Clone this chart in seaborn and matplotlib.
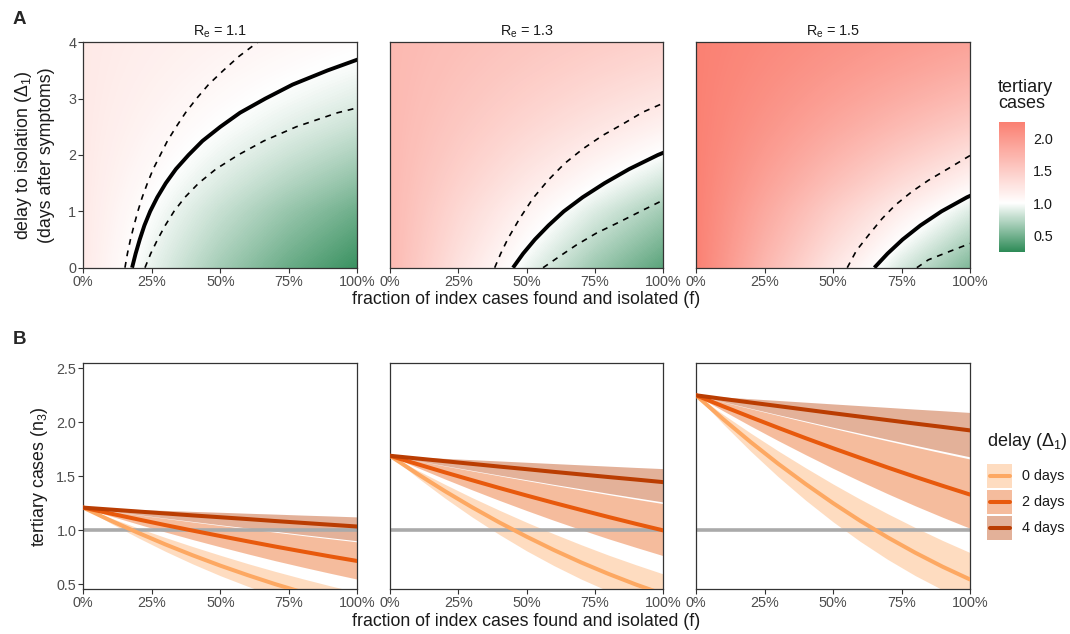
import matplotlib
matplotlib.use("Agg")
import numpy as np
import pandas as pd
import matplotlib.pyplot as plt
import seaborn as sns
from matplotlib.colors import LinearSegmentedColormap, Normalize
from matplotlib.patches import Rectangle
from matplotlib.lines import Line2D

# ---- data ----
re_values = [1.1, 1.3, 1.5]
f_grid = [0, 0.25, 0.5, 0.75, 1.0]
delay_grid = [0, 0.5, 1, 1.5, 2, 2.5, 3, 3.5, 4]

# panel A: tertiary cases, rows = delay_grid, cols = f_grid
n3_grid = {
    1.1: [[1.21, 0.920, 0.670, 0.459, 0.288],
          [1.21, 0.958, 0.736, 0.543, 0.379],
          [1.21, 0.994, 0.799, 0.625, 0.473],
          [1.21, 1.035, 0.874, 0.727, 0.593],
          [1.21, 1.071, 0.940, 0.818, 0.704],
          [1.21, 1.102, 0.999, 0.901, 0.808],
          [1.21, 1.127, 1.047, 0.969, 0.895],
          [1.21, 1.147, 1.086, 1.027, 0.969],
          [1.21, 1.163, 1.117, 1.073, 1.029]],
    1.3: [[1.69, 1.285, 0.935, 0.641, 0.402],
          [1.69, 1.339, 1.028, 0.759, 0.530],
          [1.69, 1.388, 1.116, 0.873, 0.660],
          [1.69, 1.446, 1.221, 1.015, 0.828],
          [1.69, 1.496, 1.313, 1.143, 0.984],
          [1.69, 1.539, 1.395, 1.258, 1.128],
          [1.69, 1.574, 1.462, 1.354, 1.250],
          [1.69, 1.602, 1.517, 1.434, 1.354],
          [1.69, 1.625, 1.561, 1.498, 1.437]],
    1.5: [[2.25, 1.711, 1.245, 0.854, 0.536],
          [2.25, 1.782, 1.369, 1.010, 0.706],
          [2.25, 1.848, 1.485, 1.162, 0.879],
          [2.25, 1.925, 1.626, 1.351, 1.103],
          [2.25, 1.991, 1.748, 1.521, 1.310],
          [2.25, 2.049, 1.857, 1.675, 1.502],
          [2.25, 2.095, 1.946, 1.802, 1.664],
          [2.25, 2.133, 2.020, 1.910, 1.802],
          [2.25, 2.163, 2.078, 1.994, 1.913]],
}

# n3 = 1 contour (solid) and its bounds (dashed): (f, delay)
contour_mid = {
    1.1: ([0.178, 0.191, 0.206, 0.223, 0.244, 0.270, 0.301, 0.338, 0.384, 0.435,
           0.500, 0.572, 0.664, 0.764, 0.891, 1.033],
          [0, 0.25, 0.5, 0.75, 1, 1.25, 1.5, 1.75, 2, 2.25, 2.5, 2.75, 3, 3.25, 3.5, 3.75]),
    1.3: ([0.450, 0.487, 0.530, 0.580, 0.636, 0.705, 0.785, 0.875, 0.980, 1.08],
          [0, 0.25, 0.5, 0.75, 1, 1.25, 1.5, 1.75, 2, 2.2]),
    1.5: ([0.651, 0.699, 0.754, 0.819, 0.896, 0.989, 1.104],
          [0, 0.25, 0.5, 0.75, 1.0, 1.25, 1.5]),
}
contour_upper = {
    1.1: ([0.152, 0.161, 0.172, 0.185, 0.199, 0.215, 0.234, 0.255, 0.281, 0.307,
           0.339, 0.373, 0.413, 0.457, 0.511, 0.568, 0.636],
          [0, 0.25, 0.5, 0.75, 1, 1.25, 1.5, 1.75, 2, 2.25, 2.5, 2.75, 3, 3.25, 3.5, 3.75, 4]),
    1.3: ([0.383, 0.405, 0.432, 0.474, 0.523, 0.578, 0.639, 0.706, 0.779, 0.852, 0.925, 1.0],
          [0, 0.25, 0.52, 0.87, 1.23, 1.55, 1.85, 2.11, 2.35, 2.55, 2.76, 2.92]),
    1.5: ([0.552, 0.585, 0.630, 0.679, 0.727, 0.788, 0.848, 0.921, 1.0],
          [0, 0.3, 0.58, 0.87, 1.11, 1.35, 1.55, 1.76, 1.99]),
}
contour_lower = {
    1.1: ([0.225, 0.246, 0.271, 0.299, 0.331, 0.371, 0.421, 0.484, 0.565, 0.659,
           0.777, 0.928, 1.136],
          [0, 0.25, 0.5, 0.75, 1, 1.25, 1.5, 1.75, 2, 2.25, 2.5, 2.75, 3]),
    1.3: ([0.560, 0.620, 0.681, 0.754, 0.839, 0.925, 1.0],
          [0, 0.2, 0.40, 0.61, 0.81, 1.02, 1.2]),
    1.5: ([0.806, 0.848, 0.921, 1.0],
          [0, 0.14, 0.28, 0.43]),
}

# panel B: tertiary cases vs f for delays 0, 2, 4 days
f_line = [0, 0.1, 0.2, 0.3, 0.4, 0.5, 0.6, 0.7, 0.8, 0.9, 1.0]
delays = [0, 2, 4]
delay_labels = ["0 days", "2 days", "4 days"]
n3_mid = {
    1.1: {0: [1.21, 1.090, 0.977, 0.869, 0.768, 0.673, 0.585, 0.502, 0.426, 0.356, 0.293],
          2: [1.21, 1.155, 1.101, 1.048, 0.997, 0.947, 0.898, 0.850, 0.804, 0.759, 0.716],
          4: [1.21, 1.192, 1.174, 1.156, 1.138, 1.121, 1.104, 1.086, 1.069, 1.052, 1.035]},
    1.3: {0: [1.69, 1.523, 1.364, 1.214, 1.073, 0.941, 0.817, 0.702, 0.596, 0.498, 0.409],
          2: [1.69, 1.613, 1.537, 1.464, 1.392, 1.322, 1.254, 1.188, 1.123, 1.060, 0.999],
          4: [1.69, 1.665, 1.640, 1.615, 1.590, 1.566, 1.541, 1.517, 1.493, 1.470, 1.446]},
    1.5: {0: [2.25, 2.027, 1.816, 1.616, 1.429, 1.252, 1.087, 0.934, 0.793, 0.663, 0.545],
          2: [2.25, 2.147, 2.047, 1.949, 1.853, 1.760, 1.670, 1.581, 1.495, 1.412, 1.331],
          4: [2.25, 2.216, 2.183, 2.150, 2.117, 2.084, 2.052, 2.020, 1.988, 1.957, 1.925]},
}
n3_low = {
    1.1: {0: [1.21, 1.066, 0.931, 0.805, 0.688, 0.580, 0.482, 0.392, 0.312, 0.241, 0.179],
          2: [1.21, 1.132, 1.057, 0.984, 0.914, 0.847, 0.782, 0.719, 0.660, 0.603, 0.548],
          4: [1.21, 1.177, 1.145, 1.113, 1.082, 1.051, 1.021, 0.991, 0.961, 0.932, 0.903]},
    1.3: {0: [1.69, 1.489, 1.300, 1.124, 0.961, 0.810, 0.673, 0.548, 0.436, 0.337, 0.251],
          2: [1.69, 1.581, 1.476, 1.375, 1.277, 1.183, 1.092, 1.005, 0.921, 0.842, 0.765],
          4: [1.69, 1.644, 1.599, 1.555, 1.511, 1.468, 1.425, 1.384, 1.342, 1.302, 1.262]},
    1.5: {0: [2.25, 1.982, 1.731, 1.496, 1.279, 1.079, 0.896, 0.730, 0.581, 0.449, 0.334],
          2: [2.25, 2.105, 1.965, 1.830, 1.700, 1.574, 1.454, 1.338, 1.227, 1.121, 1.019],
          4: [2.25, 2.189, 2.129, 2.070, 2.012, 1.954, 1.898, 1.842, 1.787, 1.733, 1.680]},
}
n3_high = {
    1.1: {0: [1.21, 1.114, 1.021, 0.933, 0.849, 0.769, 0.692, 0.620, 0.552, 0.487, 0.427],
          2: [1.21, 1.176, 1.143, 1.110, 1.077, 1.045, 1.014, 0.983, 0.952, 0.922, 0.893],
          4: [1.21, 1.201, 1.193, 1.184, 1.175, 1.167, 1.158, 1.150, 1.141, 1.133, 1.124]},
    1.3: {0: [1.69, 1.556, 1.427, 1.303, 1.186, 1.074, 0.967, 0.866, 0.770, 0.681, 0.596],
          2: [1.69, 1.643, 1.596, 1.550, 1.505, 1.460, 1.416, 1.373, 1.330, 1.288, 1.247],
          4: [1.69, 1.678, 1.666, 1.654, 1.642, 1.630, 1.618, 1.606, 1.594, 1.582, 1.571]},
    1.5: {0: [2.25, 2.071, 1.899, 1.735, 1.579, 1.429, 1.287, 1.153, 1.026, 0.906, 0.794],
          2: [2.25, 2.187, 2.125, 2.064, 2.003, 1.944, 1.885, 1.828, 1.771, 1.715, 1.660],
          4: [2.25, 2.234, 2.218, 2.202, 2.186, 2.170, 2.154, 2.138, 2.122, 2.107, 2.091]},
}

delay_colors = {0: "#FDA862", 2: "#E8590C", 4: "#BA3D02"}
fill_lo, fill_mid, fill_hi = 0.24, 1.0, 2.26

# ---- style ----
sns.set_theme(style="ticks")
plt.rcParams['font.family'] = ['Liberation Sans', 'DejaVu Sans']
plt.rcParams['mathtext.default'] = 'regular'

W, H = 1070, 634
fig = plt.figure(figsize=(W / 100, H / 100), dpi=100)


def box(x0, y0, x1, y1):
    return [x0 / W, 1 - y1 / H, (x1 - x0) / W, (y1 - y0) / H]


def style_ax(ax):
    for s in ax.spines.values():
        s.set_color("#333333")
        s.set_linewidth(0.9)
    ax.tick_params(colors="#333333", labelcolor="#4D4D4D", labelsize=10.4,
                   length=3.5, width=0.8, pad=1.5)


panel_x = [(83.3, 357.3), (390, 663.3), (696, 970)]
pct = ["0%", "25%", "50%", "75%", "100%"]

white_pos = (fill_mid - fill_lo) / (fill_hi - fill_lo)
cmap = LinearSegmentedColormap.from_list(
    "tertiary", [(0, "#2E8B57"), (white_pos, "#FFFFFF"), (1, "#FA8072")])
norm = Normalize(vmin=fill_lo, vmax=fill_hi)

# ---- panel A ----
im = None
for i, re in enumerate(re_values):
    x0, x1 = panel_x[i]
    ax = fig.add_axes(box(x0, 42.3, x1, 267.7))
    grid = np.array(n3_grid[re])
    im = ax.imshow(grid, origin="lower", aspect="auto", cmap=cmap, norm=norm,
                   extent=[-0.125, 1.125, -0.25, 4.25],
                   interpolation="bilinear", interpolation_stage="data")
    fu, du = contour_upper[re]
    fl, dl = contour_lower[re]
    fm, dm = contour_mid[re]
    ax.plot(fu, du, color="black", lw=1.2, linestyle=(0, (3.5, 3.5)))
    ax.plot(fl, dl, color="black", lw=1.2, linestyle=(0, (3.5, 3.5)))
    ax.plot(fm, dm, color="black", lw=2.8, solid_capstyle="butt")
    ax.set_xlim(0, 1)
    ax.set_ylim(0, 4)
    ax.set_xticks(f_grid)
    ax.set_xticklabels(pct)
    ax.set_yticks([0, 1, 2, 3, 4])
    ax.set_title(f"R$_e$ = {re}", fontsize=10.4, color="#1A1A1A", pad=5)
    style_ax(ax)
    if i > 0:
        ax.tick_params(axis="y", left=False, labelleft=False)

# colorbar
cax = fig.add_axes(box(999, 122, 1025, 252))
cb = fig.colorbar(im, cax=cax, ticks=[0.5, 1.0, 1.5, 2.0])
cb.outline.set_visible(False)
cax.set_yticklabels(["0.5", "1.0", "1.5", "2.0"])
cax.tick_params(axis="y", direction="in", length=5, width=0.9, color="white",
                left=True, right=True, labelleft=False, labelright=True,
                labelsize=10.4, labelcolor="#1A1A1A", pad=6)
fig.text(998 / W, 1 - 79 / H, "tertiary\ncases", fontsize=13, color="#1A1A1A",
         ha="left", va="top", linespacing=0.95)

# ---- panel B ----
rows = []
for re in re_values:
    for d in delays:
        for fv, v in zip(f_line, n3_mid[re][d]):
            rows.append({"Re": re, "delay": d, "f": fv, "n3": v})
df_b = pd.DataFrame(rows)

for i, re in enumerate(re_values):
    x0, x1 = panel_x[i]
    ax = fig.add_axes(box(x0, 363.3, x1, 589.3))
    for d in delays:
        ax.fill_between(f_line, n3_low[re][d], n3_high[re][d],
                        color=delay_colors[d], alpha=0.4, lw=0)
    ax.axhline(1.0, color="#AAAAAA", lw=2.6, zorder=2)
    sns.lineplot(data=df_b[df_b["Re"] == re], x="f", y="n3", hue="delay",
                 palette=delay_colors, linewidth=2.9, legend=False, ax=ax,
                 zorder=3)
    ax.set_xlim(0, 1)
    ax.set_ylim(0.454, 2.546)
    ax.set_xticks(f_grid)
    ax.set_xticklabels(pct)
    ax.set_yticks([0.5, 1.0, 1.5, 2.0, 2.5])
    ax.set_yticklabels(["0.5", "1.0", "1.5", "2.0", "2.5"])
    ax.set_xlabel("")
    ax.set_ylabel("")
    style_ax(ax)
    if i > 0:
        ax.tick_params(axis="y", left=False, labelleft=False)

# legend for panel B (keys: ribbon fill + line)
fig.text(987 / W, 1 - 442 / H, "delay (Δ$_1$)", fontsize=13, color="#1A1A1A",
         ha="left", va="center")
for k, d in enumerate(delays):
    top = 464 + 26 * k
    fig.add_artist(Rectangle((987 / W, 1 - (top + 23.5) / H), 25 / W, 23.5 / H,
                             transform=fig.transFigure, facecolor=delay_colors[d],
                             alpha=0.4, edgecolor="none"))
    yc = 1 - (top + 11.75) / H
    fig.add_artist(Line2D([990 / W, 1010 / W], [yc, yc], transform=fig.transFigure,
                          color=delay_colors[d], lw=2.9))
    fig.text(1022 / W, yc, delay_labels[k], fontsize=10.4, color="#1A1A1A",
             ha="left", va="center")

# ---- labels ----
fig.text(19 / W, 1 - 19 / H, "A", fontsize=13.5, fontweight="bold", ha="center", va="center")
fig.text(19 / W, 1 - 340 / H, "B", fontsize=13.5, fontweight="bold", ha="center", va="center")
xtitle = "fraction of index cases found and isolated (f)"
fig.text(526 / W, 1 - 300 / H, xtitle, fontsize=12.8, color="#1A1A1A", ha="center", va="center")
fig.text(526 / W, 1 - 622 / H, xtitle, fontsize=12.8, color="#1A1A1A", ha="center", va="center")
fig.text(24 / W, 1 - 155 / H, "delay to isolation (Δ$_1$)", fontsize=12.8, color="#1A1A1A",
         rotation=90, ha="center", va="center")
fig.text(47 / W, 1 - 155 / H, "(days after symptoms)", fontsize=12.8, color="#1A1A1A",
         rotation=90, ha="center", va="center")
fig.text(39 / W, 1 - 477 / H, "tertiary cases (n$_3$)", fontsize=12.8, color="#1A1A1A",
         rotation=90, ha="center", va="center")

fig.savefig("out.png", dpi=100)
